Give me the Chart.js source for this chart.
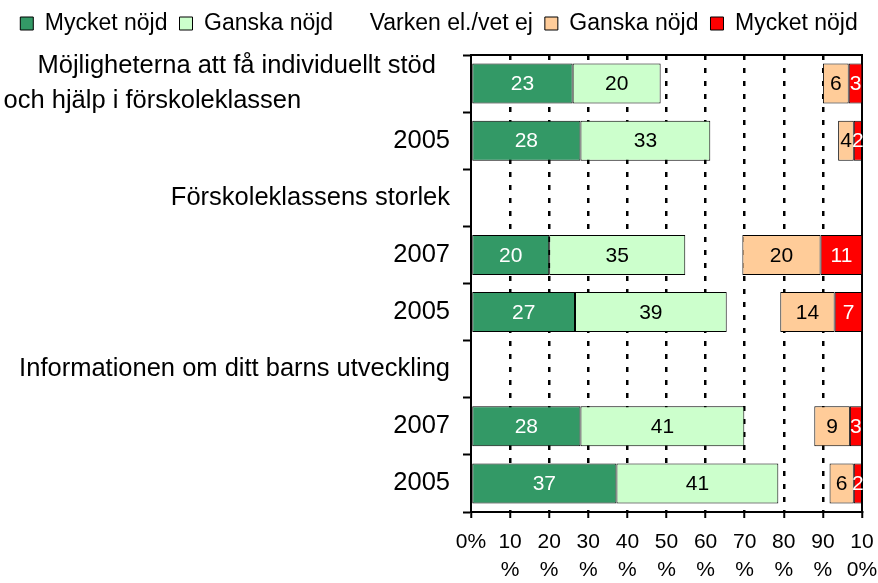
<!DOCTYPE html>
<html>
<head>
<meta charset="utf-8">
<script src="https://cdn.jsdelivr.net/npm/chart.js@4/dist/chart.umd.min.js"></script>
<style>
  html, body { margin: 0; padding: 0; background: #fff; }
  #wrap { width: 878px; height: 583px; }
</style>
</head>
<body>
<div id="wrap"><canvas id="chart"></canvas></div>
<script>
// rows, top to bottom
const categories = [
  ["  Möjligheterna att få individuellt stöd  ", "och hjälp i förskoleklassen                     "],
  "2005",
  "Förskoleklassens storlek",
  "2007",
  "2005",
  "Informationen om ditt barns utveckling",
  "2007",
  "2005"
];

const seriesNames = ["Mycket nöjd", "Ganska nöjd", "Varken el./vet ej", "Ganska nöjd", "Mycket nöjd"];

// bar lengths (%), as drawn
const mycketNojd  = [26,   28,   null, 20,   26.6, null, 28,   37.2];
const ganskaNojd  = [22.5, 33.2, null, 34.8, 38.8, null, 41.9, 41.4];
const varken      = [41.5, 32.7, null, 14.6, 13.7, null, 17.9, 13.1];
const ganskaMiss  = [6.6,  4,    null, 20,   13.9, null, 9.1,  6.2];
const mycketMiss  = [3.5,  2.1,  null, 10.7, 7.1,  null, 3.1,  2.1];

// numbers printed on the bars
const mycketNojdLabels = [23, 28, null, 20, 27, null, 28, 37];
const ganskaNojdLabels = [20, 33, null, 35, 39, null, 41, 41];
const ganskaMissLabels = [6, 4, null, 20, 14, null, 9, 6];
const mycketMissLabels = [3, 2, null, 11, 7, null, 3, 2];

const xTickLabels = ["0%", ["10", "%"], ["20", "%"], ["30", "%"], ["40", "%"], ["50", "%"],
  ["60", "%"], ["70", "%"], ["80", "%"], ["90", "%"], ["10", "0%"]];

const FONT = "'Liberation Sans', Arial, sans-serif";
Chart.defaults.font.family = FONT;
Chart.defaults.color = "#000";

const barLabels = {
  id: "barLabels",
  afterDatasetsDraw(chart) {
    const ctx = chart.ctx;
    ctx.save();
    ctx.font = "21px " + FONT;
    ctx.textAlign = "center";
    ctx.textBaseline = "middle";
    chart.data.datasets.forEach((ds, i) => {
      if (!ds.printed) return;
      chart.getDatasetMeta(i).data.forEach((bar, j) => {
        const txt = ds.printed[j];
        if (txt == null) return;
        ctx.fillStyle = ds.textColor;
        ctx.fillText(String(txt), (bar.x + bar.base) / 2, bar.y + 1);
      });
    });
    ctx.restore();
  }
};

new Chart(document.getElementById("chart"), {
  type: "bar",
  data: {
    labels: categories,
    datasets: [
      { label: seriesNames[0], data: mycketNojd, printed: mycketNojdLabels, textColor: "#fff",
        backgroundColor: "#339966", borderColor: "#000", borderWidth: 1 },
      { label: seriesNames[1], data: ganskaNojd, printed: ganskaNojdLabels, textColor: "#000",
        backgroundColor: "#CCFFCC", borderColor: "#000", borderWidth: 1 },
      { label: seriesNames[2], data: varken,
        backgroundColor: "rgba(0,0,0,0)", borderColor: "rgba(0,0,0,0)", borderWidth: 0 },
      { label: seriesNames[3], data: ganskaMiss, printed: ganskaMissLabels, textColor: "#000",
        backgroundColor: "#FFCC99", borderColor: "#000", borderWidth: 1 },
      { label: seriesNames[4], data: mycketMiss, printed: mycketMissLabels, textColor: "#fff",
        backgroundColor: "#FF0000", borderColor: "#000", borderWidth: 1 }
    ]
  },
  options: {
    indexAxis: "y",
    responsive: true,
    maintainAspectRatio: false,
    animation: false,
    layout: { padding: 0 },
    datasets: { bar: { categoryPercentage: 1, barPercentage: 0.7, borderSkipped: false } },
    plugins: {
      legend: {
        position: "top",
        labels: { font: { size: 23 }, boxWidth: 13, boxHeight: 13, padding: 12, color: "#000" }
      },
      tooltip: { enabled: false }
    },
    scales: {
      x: {
        stacked: true,
        min: 0,
        max: 100,
        ticks: {
          stepSize: 10,
          autoSkip: false,
          maxRotation: 0,
          padding: 10,
          font: { size: 21, lineHeight: 1.35 },
          callback: (v, i) => xTickLabels[i]
        },
        grid: {
          color: (c) => (c.tick && (c.tick.value === 0 || c.tick.value === 100)) ? "rgba(0,0,0,0)" : "#000",
          lineWidth: 2.5,
          tickColor: "#000",
          tickWidth: 2,
          tickLength: 6
        },
        border: { color: "#000", width: 2, dash: [5, 8] },
        afterFit: (s) => { s.height = 71; s.paddingRight = 0; s.paddingLeft = 0; }
      },
      xTop: {
        type: "linear",
        position: "top",
        min: 0,
        max: 100,
        ticks: { display: false },
        grid: { display: false },
        border: { display: true, color: "#000", width: 2 },
        afterFit: (s) => { s.height = 10; s.paddingRight = 0; s.paddingLeft = 0; }
      },
      y: {
        stacked: true,
        ticks: { padding: 13, font: { size: 25.5, lineHeight: 1.37 }, autoSkip: false },
        grid: { drawOnChartArea: false, tickLength: 8, tickColor: "#000", tickWidth: 2, color: "#000" },
        border: { color: "#000", width: 2 },
        afterFit: (s) => { s.width = 471; }
      },
      yRight: {
        type: "linear",
        position: "right",
        ticks: { display: false },
        grid: { display: false },
        border: { display: true, color: "#000", width: 2 },
        afterFit: (s) => { s.width = 16; }
      }
    }
  },
  plugins: [barLabels]
});
</script>
</body>
</html>
